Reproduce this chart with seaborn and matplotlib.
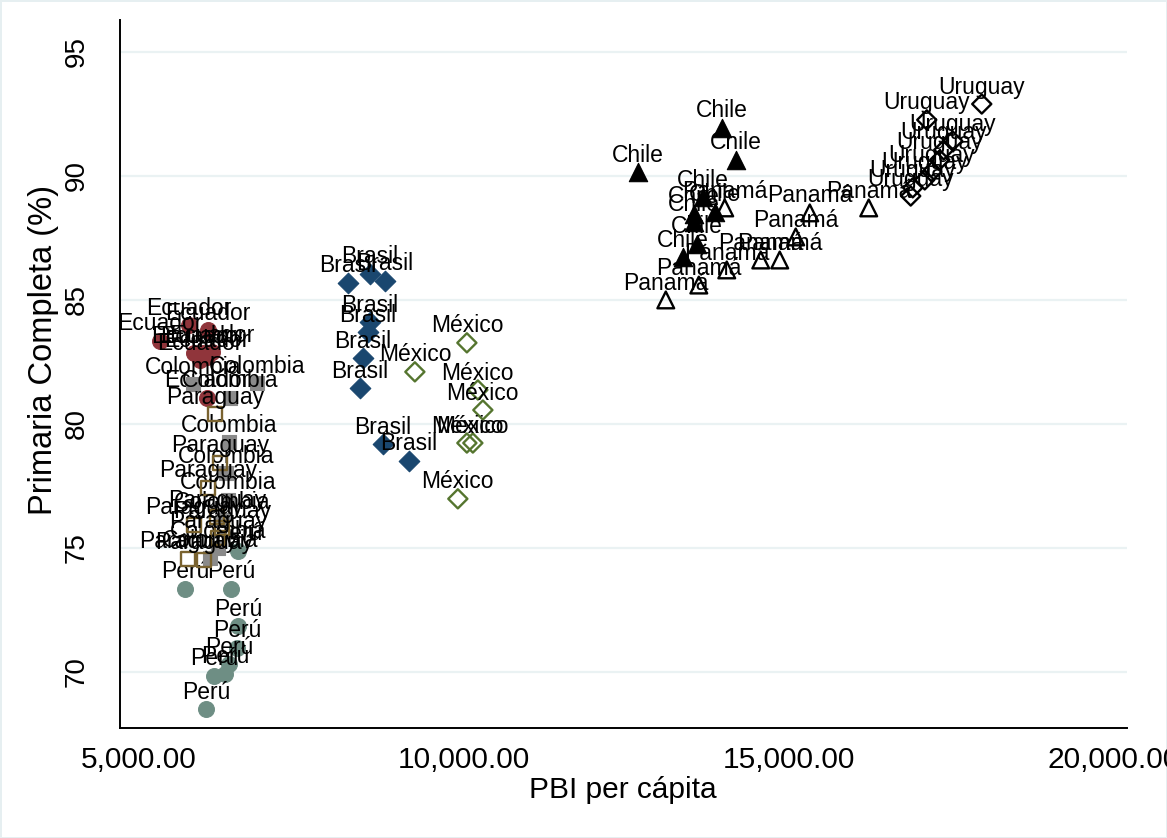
import pandas as pd
import matplotlib.pyplot as plt
import seaborn as sns

# Values (PBI per capita, % primaria completa)
peru_pbi = [5708, 6415, 6523, 6523, 6507, 6384, 6323, 6153, 6030]
peru_prim = [73.35, 73.35, 74.88, 71.85, 70.97, 70.32, 69.92, 69.84, 68.50]

ecuador_pbi = [5323, 5769, 6061, 5846, 5984, 6046, 6123, 5938, 6046]
ecuador_prim = [83.35, 83.99, 83.79, 82.86, 82.86, 82.70, 82.90, 82.58, 81.05]

colombia_pbi = [6815, 6400, 5831, 6384, 6338, 6369, 6277, 6215, 6092]
colombia_prim = [81.65, 81.05, 81.61, 79.27, 78.02, 76.94, 76.13, 75.00, 74.60]

paraguay_pbi = [6169, 6246, 6061, 6200, 5846, 6215, 6277, 5754, 6000]
paraguay_prim = [80.40, 78.43, 77.42, 76.25, 75.93, 75.40, 75.80, 74.56, 74.52]

brasil_pbi = [8214, 8553, 8783, 8553, 8522, 8445, 8399, 8753, 9153]
brasil_prim = [85.69, 86.05, 85.77, 84.11, 83.71, 82.66, 81.45, 79.19, 78.51]

mexico_pbi = [10045, 9245, 10214, 10291, 10045, 10137, 9906]
mexico_prim = [83.27, 82.10, 81.37, 80.56, 79.23, 79.23, 76.98]

chile_pbi = [13967, 14182, 12675, 13674, 13859, 13536, 13536, 13582, 13367]
chile_prim = [91.94, 90.65, 90.16, 89.15, 88.55, 88.47, 88.15, 87.26, 86.73]

panama_pbi = [13105, 13613, 14043, 14566, 14858, 15104, 15320, 16227, 14012]
panama_prim = [85.00, 85.60, 86.21, 86.61, 86.61, 87.54, 88.51, 88.71, 88.71]

uruguay_pbi = [17966, 17120, 17519, 17381, 17320, 17196, 17089, 16904, 16873]
uruguay_prim = [92.90, 92.26, 91.41, 91.05, 90.65, 90.16, 89.84, 89.52, 89.19]

x_ticks = [5000, 10000, 15000, 20000]
y_ticks = [70, 75, 80, 85, 90, 95]

# country -> (pbi, prim, marker, color, filled, size)
series = [
    ("Perú", peru_pbi, peru_prim, "o", "#6e8e84", True, 130),
    ("Ecuador", ecuador_pbi, ecuador_prim, "o", "#90353b", True, 130),
    ("Colombia", colombia_pbi, colombia_prim, "s", "#8a8a8a", True, 110),
    ("Paraguay", paraguay_pbi, paraguay_prim, "s", "#7a6330", False, 100),
    ("Brasil", brasil_pbi, brasil_prim, "D", "#1a476f", True, 110),
    ("México", mexico_pbi, mexico_prim, "D", "#55752f", False, 95),
    ("Chile", chile_pbi, chile_prim, "^", "black", True, 175),
    ("Panamá", panama_pbi, panama_prim, "^", "black", False, 145),
    ("Uruguay", uruguay_pbi, uruguay_prim, "D", "black", False, 95),
]

sns.set_style("white")
plt.rcParams["font.family"] = ["Liberation Sans", "DejaVu Sans"]
plt.rcParams["text.color"] = "black"
plt.rcParams["axes.labelcolor"] = "black"
plt.rcParams["xtick.color"] = "black"
plt.rcParams["ytick.color"] = "black"

fig = plt.figure(figsize=(11.67, 8.38), dpi=100)
fig.patch.set_edgecolor("#e6eff1")
fig.patch.set_linewidth(2)
ax = fig.add_axes([0.1028, 0.1313, 0.8629, 0.8449])

for gl in y_ticks:
    ax.axhline(gl, color="#eaf2f3", lw=1.6, zorder=0)

z = 2
for name, xs, ys, mk, col, filled, size in series:
    df = pd.DataFrame({"pbi": xs, "prim": ys})
    if filled:
        sns.scatterplot(data=df, x="pbi", y="prim", ax=ax, marker=mk, s=size,
                        color=col, edgecolor=col, linewidth=0.8, zorder=z)
    else:
        sns.scatterplot(data=df, x="pbi", y="prim", ax=ax, marker=mk, s=size,
                        color=col, facecolor="none", edgecolor=col,
                        linewidth=1.7, zorder=z)
    for xv, yv in zip(xs, ys):
        ax.annotate(name, (xv, yv), xytext=(0, 7.5), textcoords="offset points",
                    ha="center", va="baseline", fontsize=16.5, color="black",
                    zorder=z + 1)
    z += 2

ax.set_xlim(4708, 20200)
ax.set_ylim(67.74, 96.29)
ax.set_xticks(x_ticks)
ax.set_xticklabels([f"{v:,.2f}" for v in x_ticks], fontsize=21.5)
ax.set_yticks(y_ticks)
ax.set_yticklabels([str(v) for v in y_ticks], fontsize=20, rotation=90,
                   va="center")
ax.tick_params(axis="x", length=8, width=1.2, pad=5, color="black")
ax.tick_params(axis="y", length=8, width=1.2, pad=14, color="black")

for side in ["top", "right"]:
    ax.spines[side].set_visible(False)
for side in ["left", "bottom"]:
    ax.spines[side].set_color("black")
    ax.spines[side].set_linewidth(1.4)

ax.set_xlabel("PBI per cápita", fontsize=21.5)
ax.set_ylabel("Primaria Completa (%)", fontsize=23.5)
ax.xaxis.set_label_coords(0.4995, -0.068)
ax.yaxis.set_label_coords(-0.0606, 0.534)

fig.savefig("out.png", dpi=100, edgecolor=fig.get_edgecolor())
